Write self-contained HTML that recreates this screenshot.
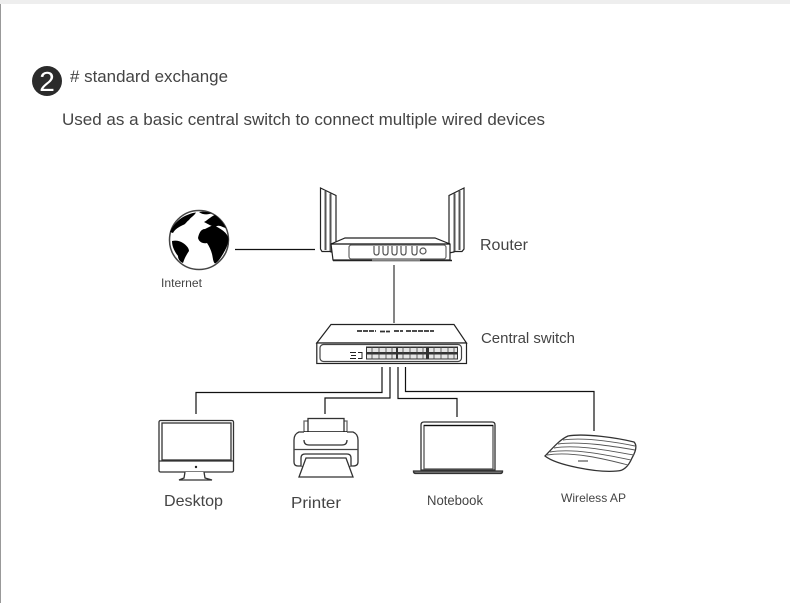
<!DOCTYPE html>
<html><head><meta charset="utf-8"><style>
html,body{margin:0;padding:0;background:#fff;width:790px;height:603px;overflow:hidden}
svg{display:block}
text{font-family:"Liberation Sans",sans-serif;fill:#444}
</style></head><body>
<svg width="790" height="603" viewBox="0 0 790 603" xmlns="http://www.w3.org/2000/svg">
<defs><filter id="b" x="-5%" y="-5%" width="110%" height="110%"><feGaussianBlur stdDeviation="0.3"/></filter></defs>
<rect width="790" height="603" fill="#fff"/>
<rect x="0" y="0" width="790" height="4" fill="#eee"/>
<rect x="0" y="4" width="1" height="599" fill="#999"/>
<circle cx="47" cy="81" r="15" fill="#2b2b2b"/>
<text x="47" y="91" font-size="28" text-anchor="middle" style="fill:#fff">2</text>
<text x="70" y="82" font-size="17" textLength="158" lengthAdjust="spacingAndGlyphs">#  standard exchange</text>
<text x="62" y="125" font-size="17" textLength="483" lengthAdjust="spacingAndGlyphs">Used as a basic central switch to connect multiple wired devices</text>

<!-- connectors -->
<g fill="none" stroke="#111" stroke-width="1.200">
<path d="M235 249.500H315"/>
<path d="M394 265V323" stroke="#333"/>
<path d="M382 367V392.500H196V414"/>
<path d="M390 367V398H325V414"/>
<path d="M398 367V398.500H457V417"/>
<path d="M405.500 367V391.500H594V431"/>
</g>

<g filter="url(#b)">
<!-- globe -->
<circle cx="199" cy="240" r="29.500" fill="#fff" stroke="#444" stroke-width="1.500"/>
<g fill="#000">
<path d="M198 238C199 233 201 229 205 229L211 226C215 225 219 228 222 230C225 232 228 235 228.500 239C228 245 226 249 223 254C220 259 218 262 215 263.500C213 262 213 258 212 254C211 250 209 246 207 243C203 244 199 242 198 238Z"/>
<path d="M172 241C176 240 180 241 183 243C186 245 189 248 189 251C187 254 185 257 183 263C180 262 178 259 178 256C175 252 172 247 172 241Z"/>
<path d="M170 232C173 225 178 220 183 217C187 215 191 213 196 212.500C194 216 191 217 189 220C186 222 186 224 183 225C179 227 175 229 173 233Z"/>
<path d="M204 222C208 220 210 217 215 215C219 218 223 222 226 228C222 227 220 225 217 226C214 228 210 225 204 222Z"/>
<path d="M199 212C203 211 208 212 212 213C208 215 203 215 199 212Z"/>
</g>

<!-- router -->
<g fill="#fff" stroke="#222" stroke-width="1.200">
<path d="M320.500 188L336 195.500V253L331 252V251.500H322L320.500 249Z"/>
<path d="M325.500 191V250M330.500 193.500V251" fill="none" stroke="#555" stroke-width="2"/>
<path d="M464 188L449 195.500V253L454 252V251.500H462L464 249Z"/>
<path d="M459.500 191V250M454.500 193.500V251" fill="none" stroke="#555" stroke-width="2"/>
<path d="M331 244L345 238H435L450 244V260H333Z" fill="#fff"/>
<path d="M331 244H450" stroke="#111"/>
<rect x="349" y="245" width="97" height="14" rx="2.500" stroke="#666"/>
<path d="M374 246v6q0 3 2.500 3t2.500-3v-6M383 246v6q0 3 2.500 3t2.500-3v-6M392 246v6q0 3 2.500 3t2.500-3v-6M401 246v6q0 3 2.500 3t2.500-3v-6M412 246v6q0 3 2.500 3t2.500-3v-6" fill="none" stroke="#555"/>
<circle cx="423" cy="251" r="3" fill="none" stroke="#555"/>
<path d="M333 260.500H452" stroke="#222" stroke-width="1.500"/>
<path d="M372 260H420" stroke="#999" stroke-width="1.500"/>
</g>

<!-- switch -->
<g fill="#fff" stroke="#222" stroke-width="1.200">
<path d="M316.800 343L331 324.500H454L466.500 343Z"/>
<rect x="316.800" y="343" width="149.700" height="20.500"/>
<rect x="320" y="344.500" width="141.500" height="17" rx="3.500" stroke="#444"/>
</g>
<path d="M357 331H376M380 331.500H390M394 331H403M406 331H434" stroke="#333" stroke-width="1.800" stroke-dasharray="5 1"/>
<rect x="366" y="346.500" width="92" height="13" fill="#333"/>
<g fill="#e5e5e5">
<rect x="367" y="348" width="29" height="4"/><rect x="367" y="354.500" width="29" height="4"/>
<rect x="398" y="348" width="28" height="4"/><rect x="398" y="354.500" width="28" height="4"/>
<rect x="429" y="348" width="28" height="4"/><rect x="429" y="354.500" width="28" height="4"/>
</g>
<path d="M372 346.500v13M379 346.500v13M386 346.500v13M392 346.500v13M403 346.500v13M410 346.500v13M417 346.500v13M423 346.500v13M434 346.500v13M441 346.500v13M448 346.500v13M454 346.500v13" stroke="#444" stroke-width="0.800"/>
<path d="M350 352.500h6M351 355.500h5M350 358.500h6M358 352.500h4v6h-4" fill="none" stroke="#222"/>

<!-- desktop -->
<g fill="#fff" stroke="#333" stroke-width="1.300">
<rect x="159" y="420.500" width="74.500" height="51.500" rx="1.500"/>
<rect x="162" y="423" width="69" height="37"/>
<path d="M159 461H233.500" />
<path d="M185 472L184 478L179 480H212L205 478L204 472" fill="#fff"/>
</g>
<circle cx="196" cy="467" r="1.200" fill="#222"/>

<!-- printer -->
<g fill="#fff" stroke="#333" stroke-width="1.300">
<path d="M304 421H347V440Q347 445 342 445H309Q304 445 304 440Z" stroke="#666"/>
<rect x="308" y="418.500" width="36" height="14"/>
<path d="M304 432H347" stroke="#111" stroke-width="1.500"/>
<path d="M304 432H299Q294 434 294 440V462Q294 466 298 466H353Q358 466 358 462V440Q358 434 353 432H347" />
<path d="M294 449.500H358" stroke="#444"/>
<path d="M304 440Q304 445 309 445H342Q347 445 347 440" fill="none"/>
<path d="M301 466V458Q301 454 305 454H347Q351 454 351 458V466"/>
<path d="M306 458H346L353 477H299Z"/>
</g>

<!-- notebook -->
<g fill="#fff" stroke="#333" stroke-width="1.300">
<path d="M421 470V425Q421 422 424 422H492Q495 422 495 425V470Z"/>
<rect x="424" y="425.500" width="69" height="43.500" stroke="#555"/>
<path d="M424 425.500H493" stroke="#111"/>
<path d="M413.500 471H502.500V472Q502 473.500 500 473.500H416Q414 473.500 413.500 472Z" fill="#777"/>
</g>

<!-- AP -->
<g fill="#fff" stroke="#333" stroke-width="1.300">
<path d="M545 456C552 449 559 440 568 436C585 433 618 438 634 442C637 445 636 451 632 458C629 465 624 471 617 471C597 473 556 465 545 456Z"/>
</g>
<path d="M563 440C585 437 615 442 635 446M558 444C580 441 612 446 635 450M554 448C578 444 610 451 634 455M550 452C574 448 607 455 631 460M547 455C572 451 605 459 628 465" fill="none" stroke="#555" stroke-width="0.900"/>
<path d="M578 461H588" stroke="#777" stroke-width="1.500"/>
</g>

<!-- labels -->
<text x="161" y="287" font-size="12" textLength="41" lengthAdjust="spacingAndGlyphs">Internet</text>
<text x="480" y="250" font-size="16" textLength="48" lengthAdjust="spacingAndGlyphs">Router</text>
<text x="481" y="343" font-size="15" textLength="94" lengthAdjust="spacingAndGlyphs">Central switch</text>
<text x="164" y="506" font-size="16" textLength="59" lengthAdjust="spacingAndGlyphs">Desktop</text>
<text x="291" y="508" font-size="16" textLength="50" lengthAdjust="spacingAndGlyphs">Printer</text>
<text x="427" y="505" font-size="13.500" textLength="56" lengthAdjust="spacingAndGlyphs">Notebook</text>
<text x="561" y="502" font-size="12" textLength="65" lengthAdjust="spacingAndGlyphs">Wireless AP</text>
</svg>
</body></html>
